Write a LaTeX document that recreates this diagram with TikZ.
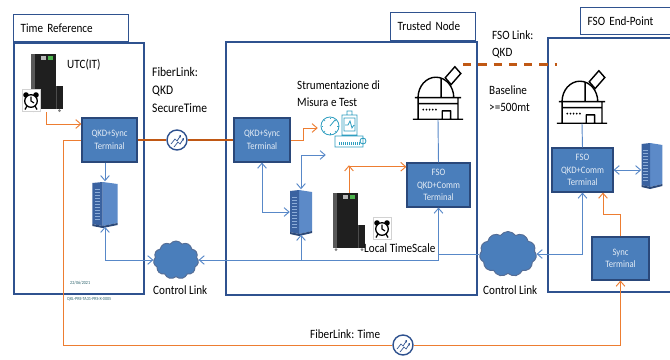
\documentclass[tikz,border=0pt]{standalone}
\usepackage{fontspec}
\setmainfont{Carlito}[FakeStretch=0.88]
\usetikzlibrary{arrows.meta,positioning,calc,shapes.symbols}
\definecolor{PanelBlue}{RGB}{47,82,143}
\definecolor{BoxBlue}{RGB}{74,126,187}
\definecolor{BoxEdge}{RGB}{42,72,122}
\definecolor{CtrlBlue}{RGB}{88,136,200}
\definecolor{SyncOrange}{RGB}{237,125,49}
\definecolor{FiberBrown}{RGB}{192,88,20}
\definecolor{InstTeal}{RGB}{46,158,192}
\definecolor{SrvFront}{RGB}{58,98,160}
\definecolor{SrvSide}{RGB}{92,138,200}
\definecolor{CodeTeal}{RGB}{45,100,110}
\tikzset{
  panel/.style={
    draw=PanelBlue,
    line width=1.6pt,
    fill=white,
    inner sep=0pt,
  },
  panel title/.style={
    draw=PanelBlue,
    line width=1.2pt,
    fill=white,
    font=\fontsize{10.8}{12}\selectfont,
    align=left,
    inner xsep=0.21cm,
    inner ysep=0pt,
  },
  terminal/.style={
    draw=BoxEdge,
    line width=0.9pt,
    fill=BoxBlue,
    text=white!85!BoxBlue,
    font=\fontsize{8.4}{10.8}\selectfont,
    align=center,
    inner sep=1pt,
  },
  icon frame/.style={
    inner sep=0pt,
  },
  cloud blob/.style={
    cloud,
    cloud puffs=11,
    cloud puff arc=110,
    cloud ignores aspect,
    draw=BoxEdge!80,
    fill=BoxBlue,
    line width=0.8pt,
    inner sep=0pt,
  },
  fiber mark/.style={
    circle,
    draw=PanelBlue,
    fill=white,
    line width=1.2pt,
    minimum size=0.6cm,
    inner sep=0pt,
  },
  note text/.style={
    font=\fontsize{10.8}{15.3}\selectfont,
    align=left,
    inner sep=0pt,
  },
  tiny text/.style={
    font=\fontsize{4}{4.5}\selectfont,
    text=CodeTeal,
    inner sep=0pt,
  },
  ctrl line/.style={draw=CtrlBlue,line width=0.8pt},
  ctrl arrow/.style={ctrl line,-{Straight Barb[length=1.5mm,width=2.6mm]}},
  ctrl both/.style={ctrl line,{Straight Barb[length=1.5mm,width=2.6mm]}-{Straight Barb[length=1.5mm,width=2.6mm]}},
  sync line/.style={draw=SyncOrange,line width=0.8pt},
  sync arrow/.style={sync line,-{Straight Barb[length=1.5mm,width=2.6mm]}},
  qkd fiber/.style={draw=FiberBrown,line width=2pt},
  fso link/.style={draw=FiberBrown,line width=2.2pt,dash pattern=on 7pt off 6pt},
  % icons
  rack icon/.pic={
    \fill[black!88] (-16,29) rectangle (9,-26);
    \fill[black!88] (9,-3) rectangle (16,-26);
    \fill[black!65] (-16,29) rectangle (-12,-26);
    \fill[black!70] (9,-3) rectangle (10,-26);
    \fill[gray!55] (-6,27) rectangle (-1,23);
    \fill[gray!60!green] (1,27) rectangle (6,23);
    \fill[gray] (-13,-28) circle (1.5) (13,-28) circle (1.5);
  },
  clock icon/.pic={
    \filldraw[fill=white,draw=gray!35] (-9,-11) rectangle (9,11);
    \fill (-5,5) circle (2.8) (5,5) circle (2.8);
    \filldraw[fill=white,line width=1.1pt] (0,-1) circle (6.3);
    \draw[line width=1pt] (0,3.5) -- (0,-1) -- (3,-3);
    \draw[line width=1.1pt] (-4,-6) -- (-6,-9.5) (4,-6) -- (6,-9.5);
  },
  server icon/.pic={
    \fill[SrvSide] (-2,22) -- (11,20) -- (11,-19) -- (-2,-22) -- cycle;
    \fill[SrvFront] (-11,21) -- (-2,22) -- (-2,-22) -- (-11,-20) -- cycle;
    \foreach \y in {15,12,...,-15}
      \draw[SrvSide!70!white,line width=0.3pt] (-9,\y) -- (-4,\y);
    \fill[SrvFront!75!black] (-11,-20) -- (-2,-22) -- (11,-19) -- (11,-21) -- (-2,-24) -- (-11,-22) -- cycle;
  },
  telescope icon/.pic={
    \draw[line width=1.2pt,line join=round]
      (-22,-8) -- (22,-8)
      (-19,-8) -- (-19,-26) -- (19,-26) -- (19,-8)
      (-24,-26) -- (24,-26)
      (-19,-13) -- (19,-13)
      (4,-26) -- (4,-19) -- (12,-19) -- (12,-26)
      (-19,-8) arc (180:0:17)
      (3,8.3) -- (3,-8);
    \draw[line width=1.2pt,fill=white,rotate around={-45:(9,5)}] (5,6) rectangle (13,19);
    \foreach \x in {-14,-11,...,-2}
      \fill (\x,-18) circle (0.9);
  },
  bench icon/.pic={
    \draw[InstTeal,line width=0.7pt]
      (-13,9) circle (9)
      (-13,9) -- (-8,15)
      (-1,0) rectangle (14,20)
      (1,4) rectangle (12,17)
      (2,10) -- (5,10) -- (7,14) -- (9,7) -- (11,10)
      (4,20) -- (4,24) -- (9,24) -- (9,20)
      (-8,-1) rectangle (20,-12)
      (20,-6) circle (3);
    \foreach \a in {0,45,...,315}
      \draw[InstTeal,line width=0.5pt] ($(-13,9)+(\a:7)$) -- ($(-13,9)+(\a:8.5)$);
    \foreach \x in {-4,-2,...,16}
      \draw[InstTeal,line width=0.4pt] (\x,-7) -- (\x,-9.5);
  },
  fiber arrows/.pic={
    \draw[PanelBlue,line width=0.6pt,-{Stealth[length=2pt,width=2.4pt]}] (-6,-4) -- (-2,1) -- (0,-1) -- (4,5);
    \draw[PanelBlue,line width=0.6pt,-{Stealth[length=2pt,width=2.4pt]}] (-3,-7) -- (1,-2) -- (3,-4) -- (7,2);
  },
}
\begin{document}
\begin{tikzpicture}[x=0.03cm,y=0.03cm,>=Latex]
\useasboundingbox (0,0) rectangle (670,-359);
\clip (0,0) rectangle (670,-359);

% Panels with their title tabs.
\node[panel,anchor=north west,minimum width=3.9cm,minimum height=7.53cm] (tref) at (13,-42) {};
\node[panel,anchor=north west,minimum width=7.53cm,minimum height=7.59cm] (trust) at (225,-41) {};
\node[panel,anchor=north west,minimum width=4.59cm,minimum height=7.62cm] (endp) at (547,-37) {};
\node[panel title,anchor=south west,text width=3.03cm,minimum height=0.81cm] (trefT) at (13,-42) {Time Reference};
\node[panel title,anchor=south west,text width=2.13cm,minimum height=0.84cm] (trustT) at (390,-41) {Trusted Node};
\node[panel title,anchor=south west,text width=3.18cm,minimum height=0.81cm] (endpT) at (580,-35) {FSO End-Point};

% Terminals.
\node[terminal,minimum width=1.65cm,minimum height=1.32cm] (syncL) at (109.5,-140) {QKD+Sync\\Terminal};
\node[terminal,minimum width=1.68cm,minimum height=1.32cm] (syncT) at (262,-140) {QKD+Sync\\Terminal};
\node[terminal,minimum width=1.89cm,minimum height=1.32cm] (fsoT) at (438.5,-185) {FSO\\QKD+Comm\\Terminal};
\node[terminal,minimum width=1.83cm,minimum height=1.32cm] (fsoE) at (582.5,-170) {FSO\\QKD+Comm\\Terminal};
\node[terminal,minimum width=1.71cm,minimum height=1.29cm] (syncE) at (620.5,-258.5) {Sync\\Terminal};

% Equipment icons.
\node[icon frame,minimum width=0.99cm,minimum height=1.77cm] (rackL) at (46.5,-82.5) {};
\node[icon frame,minimum width=0.96cm,minimum height=1.71cm] (rackT) at (349,-221.5) {};
\node[icon frame,minimum width=0.54cm,minimum height=0.66cm] (clkL) at (31,-100) {};
\node[icon frame,minimum width=0.54cm,minimum height=0.66cm] (clkT) at (382,-228) {};
\node[icon frame,minimum width=0.78cm,minimum height=1.35cm] (srvL) at (105,-204) {};
\node[icon frame,minimum width=0.66cm,minimum height=1.35cm] (srvT) at (301,-212) {};
\node[icon frame,minimum width=0.63cm,minimum height=1.35cm] (srvE) at (652,-165) {};
\node[icon frame,minimum width=1.5cm,minimum height=1.65cm] (telT) at (438,-92) {};
\node[icon frame,minimum width=1.5cm,minimum height=1.65cm] (telE) at (582,-96) {};
\node[icon frame,minimum width=1.5cm,minimum height=1.8cm] (inst) at (343,-135) {};
\pic at (rackL) {rack icon};
\pic at (rackT) {rack icon};
\pic at (clkL) {clock icon};
\pic at (clkT) {clock icon};
\pic[xscale=1.15] at (srvL) {server icon};
\pic at (srvT) {server icon};
\pic[xscale=0.95] at (srvE) {server icon};
\pic[xscale=1.05,yscale=1.2] at ($(telT)+(0,4)$) {telescope icon};
\pic[xscale=1.05,yscale=1.2] at ($(telE)+(0,4)$) {telescope icon};
\pic at (inst) {bench icon};

% Clouds and fibre marks.
\node[cloud blob,minimum width=1.35cm,minimum height=1.14cm] (cldL) at (176,-260) {};
\node[cloud blob,minimum width=1.71cm,minimum height=1.35cm] (cldR) at (508,-254) {};
\node[fiber mark] (fibA) at (177,-140) {};
\node[fiber mark] (fibB) at (403,-345) {};
\pic at (fibA) {fiber arrows};
\pic at (fibB) {fiber arrows};

% Quantum links.
\draw[qkd fiber] (syncL.east) -- (fibA.west);
\draw[qkd fiber] (fibA.east) -- (syncT.west);
\draw[fso link] (telT.north east) -- (telT.north east -| telE.west);

% Timing distribution.
\coordinate (timeL) at (63,-345);
\coordinate (tsTap) at ($(rackT.north)+(0,26)$);
\draw[sync arrow] (rackL.south) |- ($(syncL.west)+(0,16)$);
\draw[sync line] (syncL.west) -| (timeL) -- (fibB.west);
\draw[sync arrow] (fibB.east) -| (syncE.south);
\draw[sync arrow] (syncE.north) -- ++(0,22) -| ($(fsoE.south)+(20.5,0)$);
\draw[sync arrow] (syncT.east) -- ++(13,0) |- ($(inst.west)+(0,7)$);
\draw[sync arrow] (rackT.north) -- (rackT.north |- inst.south);
\draw[sync arrow] (tsTap) -- (tsTap -| fsoT.west);

% Classical control network.
\draw[ctrl arrow] (srvL.north |- syncL.south) -- (srvL.north);
\draw[ctrl both] (srvL.south) |- (cldL.west);
\draw[ctrl both] (cldL.east) -| (fsoT.south);
\draw[ctrl arrow] (srvT.south |- cldL.east) -- (srvT.south);
\draw[ctrl line] (cldR.west) -- (cldR.west -| fsoT.south);
\draw[ctrl both] (fsoE.south) |- (cldR.east);
\draw[ctrl both] (syncT.south) |- (srvT.west);
\draw[ctrl both] (srvT.north) |- ($(inst.west)+(8,-20)$);
\draw[ctrl both] (fsoE.east) -- (fsoE.east -| srvE.west);
\draw[ctrl line] (fsoT.north) -- (telT.south);
\draw[ctrl line] (fsoE.north) -- (telE.south);

% Labels.
\node[note text,anchor=north west] (utcLbl) at (67,-59) {UTC(IT)};
\node[note text,font=\fontsize{11.2}{15.3}\selectfont,anchor=north west] (qkdLbl) at (152,-67) {FiberLink:\\QKD\\SecureTime};
\node[note text,anchor=north west] (instLbl) at (297,-80) {Strumentazione di\\Misura e Test};
\node[note text,anchor=north west] (fsoLbl) at (492,-30) {FSO Link:\\QKD};
\node[note text,anchor=north west] (baseLbl) at (489,-85) {Baseline\\>=500mt};
\node[note text,anchor=north west] (tsLbl) at (364,-243) {Local TimeScale};
\node[note text,anchor=north west] (ctrlLblL) at (153,-285) {Control Link};
\node[note text,anchor=north west] (ctrlLblR) at (483,-285) {Control Link};
\node[note text,anchor=north west] (timeLbl) at (310,-329) {FiberLink: Time};
\node[tiny text,anchor=west] (dateLbl) at (70,-283) {22/06/2021};
\node[tiny text,anchor=west] (docLbl) at (67,-299) {QKL-PRE-TA31-PRS-X-0005};

\end{tikzpicture}
\end{document}
